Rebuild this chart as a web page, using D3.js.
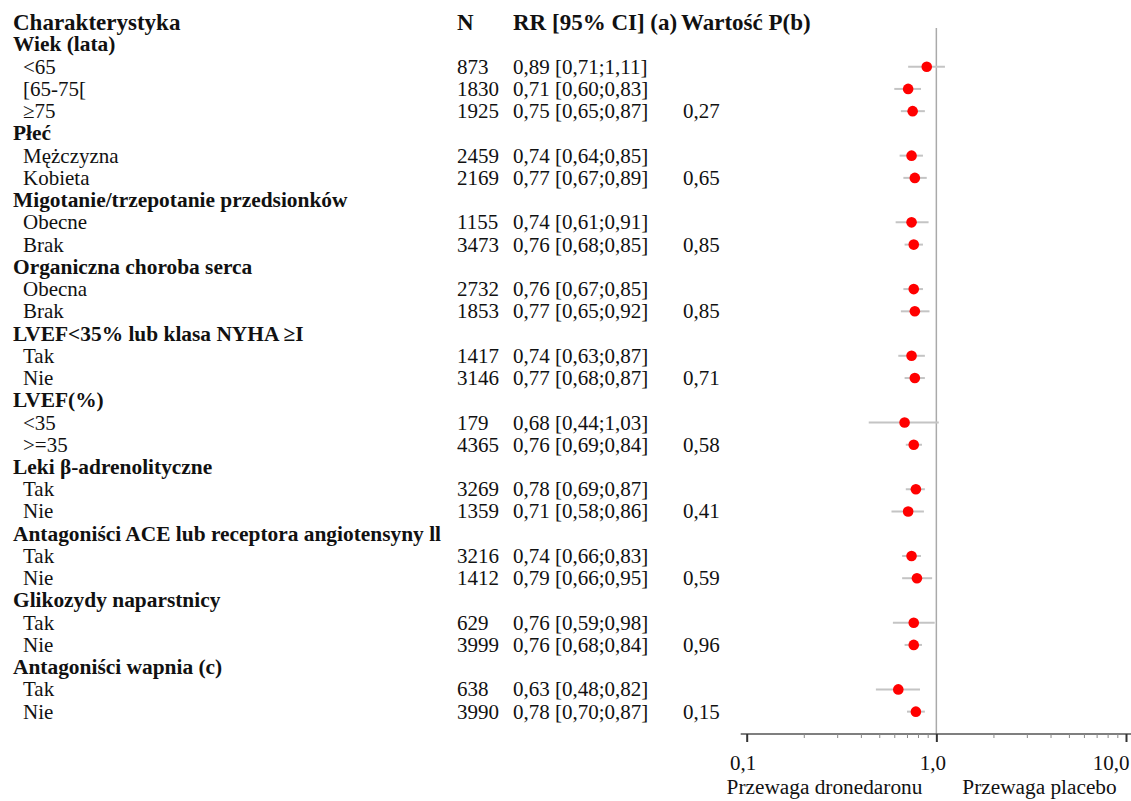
<!DOCTYPE html>
<html>
<head>
<meta charset="utf-8">
<script src="https://cdn.jsdelivr.net/npm/d3@7"></script>
<style>
  body { margin: 0; background: #fff; }
  svg { display: block; font-family: "Liberation Serif", "Times New Roman", serif; }
</style>
</head>
<body>
<svg id="chart" width="1131" height="801"></svg>
<script>
// group headers and their subgroups
const groups = [
    'Wiek (lata)', 'Płeć', 'Migotanie/trzepotanie przedsionków', 'Organiczna choroba serca',
    'LVEF<35% lub klasa NYHA ≥I', 'LVEF(%)', 'Leki β-adrenolityczne',
    'Antagoniści ACE lub receptora angiotensyny ll', 'Glikozydy naparstnicy', 'Antagoniści wapnia (c)'
];
const subgroups = [
    ['<65', '[65-75[', '≥75'],
    ['Mężczyzna', 'Kobieta'],
    ['Obecne', 'Brak'],
    ['Obecna', 'Brak'],
    ['Tak', 'Nie'],
    ['<35', '>=35'],
    ['Tak', 'Nie'],
    ['Tak', 'Nie'],
    ['Tak', 'Nie'],
    ['Tak', 'Nie']
];
const nValues = [[873, 1830, 1925], [2459, 2169], [1155, 3473], [2732, 1853], [1417, 3146],
    [179, 4365], [3269, 1359], [3216, 1412], [629, 3999], [638, 3990]];
const rrValues = [[0.89, 0.71, 0.75], [0.74, 0.77], [0.74, 0.76], [0.76, 0.77], [0.74, 0.77],
    [0.68, 0.76], [0.78, 0.71], [0.74, 0.79], [0.76, 0.76], [0.63, 0.78]];
const ciLow = [[0.71, 0.60, 0.65], [0.64, 0.67], [0.61, 0.68], [0.67, 0.65], [0.63, 0.68],
    [0.44, 0.69], [0.69, 0.58], [0.66, 0.66], [0.59, 0.68], [0.48, 0.70]];
const ciHigh = [[1.11, 0.83, 0.87], [0.85, 0.89], [0.91, 0.85], [0.85, 0.92], [0.87, 0.87],
    [1.03, 0.84], [0.87, 0.86], [0.83, 0.95], [0.98, 0.84], [0.82, 0.87]];
const pValues = [0.27, 0.65, 0.85, 0.85, 0.71, 0.58, 0.41, 0.59, 0.96, 0.15];

const columnHeaders = ['Charakterystyka', 'N', 'RR [95% CI] (a)', 'Wartość P(b)'];
const axisTicks = [0.1, 1, 10];
const minorTicks = [0.2, 0.3, 0.4, 0.5, 0.6, 0.7, 0.8, 0.9, 2, 3, 4, 5, 6, 7, 8, 9];
const sideLabels = ['Przewaga dronedaronu', 'Przewaga placebo'];

// polish number formatting (comma as decimal mark)
const locale = d3.formatLocale({ decimal: ',', thousands: ' ', grouping: [3], currency: ['', ''] });
const f2 = locale.format('.2f');
const f1 = locale.format('.1f');

// flatten into rows
const rows = [];
groups.forEach((g, gi) => {
    rows.push({ type: 'group', label: g });
    subgroups[gi].forEach((s, si) => {
        rows.push({
            type: 'sub',
            label: s,
            n: nValues[gi][si],
            rr: rrValues[gi][si],
            lo: ciLow[gi][si],
            hi: ciHigh[gi][si],
            p: si === subgroups[gi].length - 1 ? pValues[gi] : null
        });
    });
});

const svg = d3.select('#chart');

const rowStep = 22.24;
const y = d3.scaleLinear()
    .domain([0, rows.length])
    .range([22.2, 22.2 + rows.length * rowStep]);

const x = d3.scaleLog()
    .domain([0.1, 10])
    .range([746.7, 1126]);

const axisY = 734;
const textDy = 7;
const regularSize = '21px';
const groupSize = '21.4px';

const colX = { label: 13, sub: 23, n: 457, rr: 513, p: 683 };

// column headers
const headerX = [colX.label, colX.n, colX.rr, 681];
svg.append('g')
    .selectAll('text')
    .data(columnHeaders)
    .enter().append('text')
    .attr('x', (d, i) => headerX[i])
    .attr('y', y(0) + 7.5)
    .attr('font-size', '23px')
    .attr('font-weight', 'bold')
    .attr('fill', '#111')
    .text(d => d);

// reference line at RR = 1
svg.append('line')
    .attr('x1', x(1)).attr('x2', x(1))
    .attr('y1', 28).attr('y2', axisY)
    .attr('stroke', '#aaa')
    .attr('stroke-width', 1.5);

const rowG = svg.append('g')
    .selectAll('g')
    .data(rows)
    .enter().append('g')
    .attr('transform', (d, i) => `translate(0,${y(i + 1)})`);

rowG.append('text')
    .attr('x', d => d.type === 'group' ? colX.label : colX.sub)
    .attr('y', textDy)
    .attr('font-size', d => d.type === 'group' ? groupSize : regularSize)
    .attr('font-weight', d => d.type === 'group' ? 'bold' : 'normal')
    .attr('fill', '#111')
    .text(d => d.label);

const subG = rowG.filter(d => d.type === 'sub');

subG.append('text')
    .attr('x', colX.n)
    .attr('y', textDy)
    .attr('font-size', regularSize)
    .attr('fill', '#111')
    .text(d => d.n);

subG.append('text')
    .attr('x', colX.rr)
    .attr('y', textDy)
    .attr('font-size', regularSize)
    .attr('fill', '#111')
    .text(d => `${f2(d.rr)} [${f2(d.lo)};${f2(d.hi)}]`);

subG.filter(d => d.p !== null).append('text')
    .attr('x', colX.p)
    .attr('y', textDy)
    .attr('font-size', regularSize)
    .attr('fill', '#111')
    .text(d => f2(d.p));

// confidence intervals
subG.append('line')
    .attr('x1', d => x(d.lo))
    .attr('x2', d => x(d.hi))
    .attr('y1', 0).attr('y2', 0)
    .attr('stroke', '#c4c4c4')
    .attr('stroke-width', 2);

subG.append('circle')
    .attr('cx', d => x(d.rr))
    .attr('cy', 0)
    .attr('r', 5.3)
    .attr('fill', '#ff0000');

// axis
const axisG = svg.append('g').attr('transform', `translate(0,${axisY})`);

axisG.append('line')
    .attr('x1', x.range()[0] - 6)
    .attr('x2', x.range()[1] + 5)
    .attr('stroke', '#555')
    .attr('stroke-width', 1.5);

axisG.append('g')
    .call(d3.axisBottom(x).tickValues(minorTicks).tickSize(4).tickSizeOuter(0).tickFormat(''))
    .call(g => g.select('.domain').remove())
    .call(g => g.selectAll('.tick line').attr('stroke', '#888'));

axisG.append('g')
    .call(d3.axisBottom(x).tickValues(axisTicks).tickSize(8).tickSizeOuter(0).tickFormat(f1))
    .call(g => g.select('.domain').remove())
    .call(g => g.selectAll('.tick line').attr('stroke', '#333').attr('stroke-width', 2))
    .call(g => g.selectAll('.tick text')
        .attr('font-family', '"Liberation Serif", serif')
        .attr('font-size', regularSize)
        .attr('fill', '#111')
        .attr('dy', null)
        .attr('y', 36)
        .attr('x', d => d === 10 ? 3 : -4)
        .attr('text-anchor', d => d === 10 ? 'end' : 'middle'));

// direction labels
svg.append('g')
    .selectAll('text')
    .data(sideLabels)
    .enter().append('text')
    .attr('x', (d, i) => i === 0 ? x(1) - 14 : x(1) + 26)
    .attr('y', 794)
    .attr('text-anchor', (d, i) => i === 0 ? 'end' : 'start')
    .attr('font-size', '21.3px')
    .attr('fill', '#111')
    .text(d => d);
</script>
</body>
</html>
